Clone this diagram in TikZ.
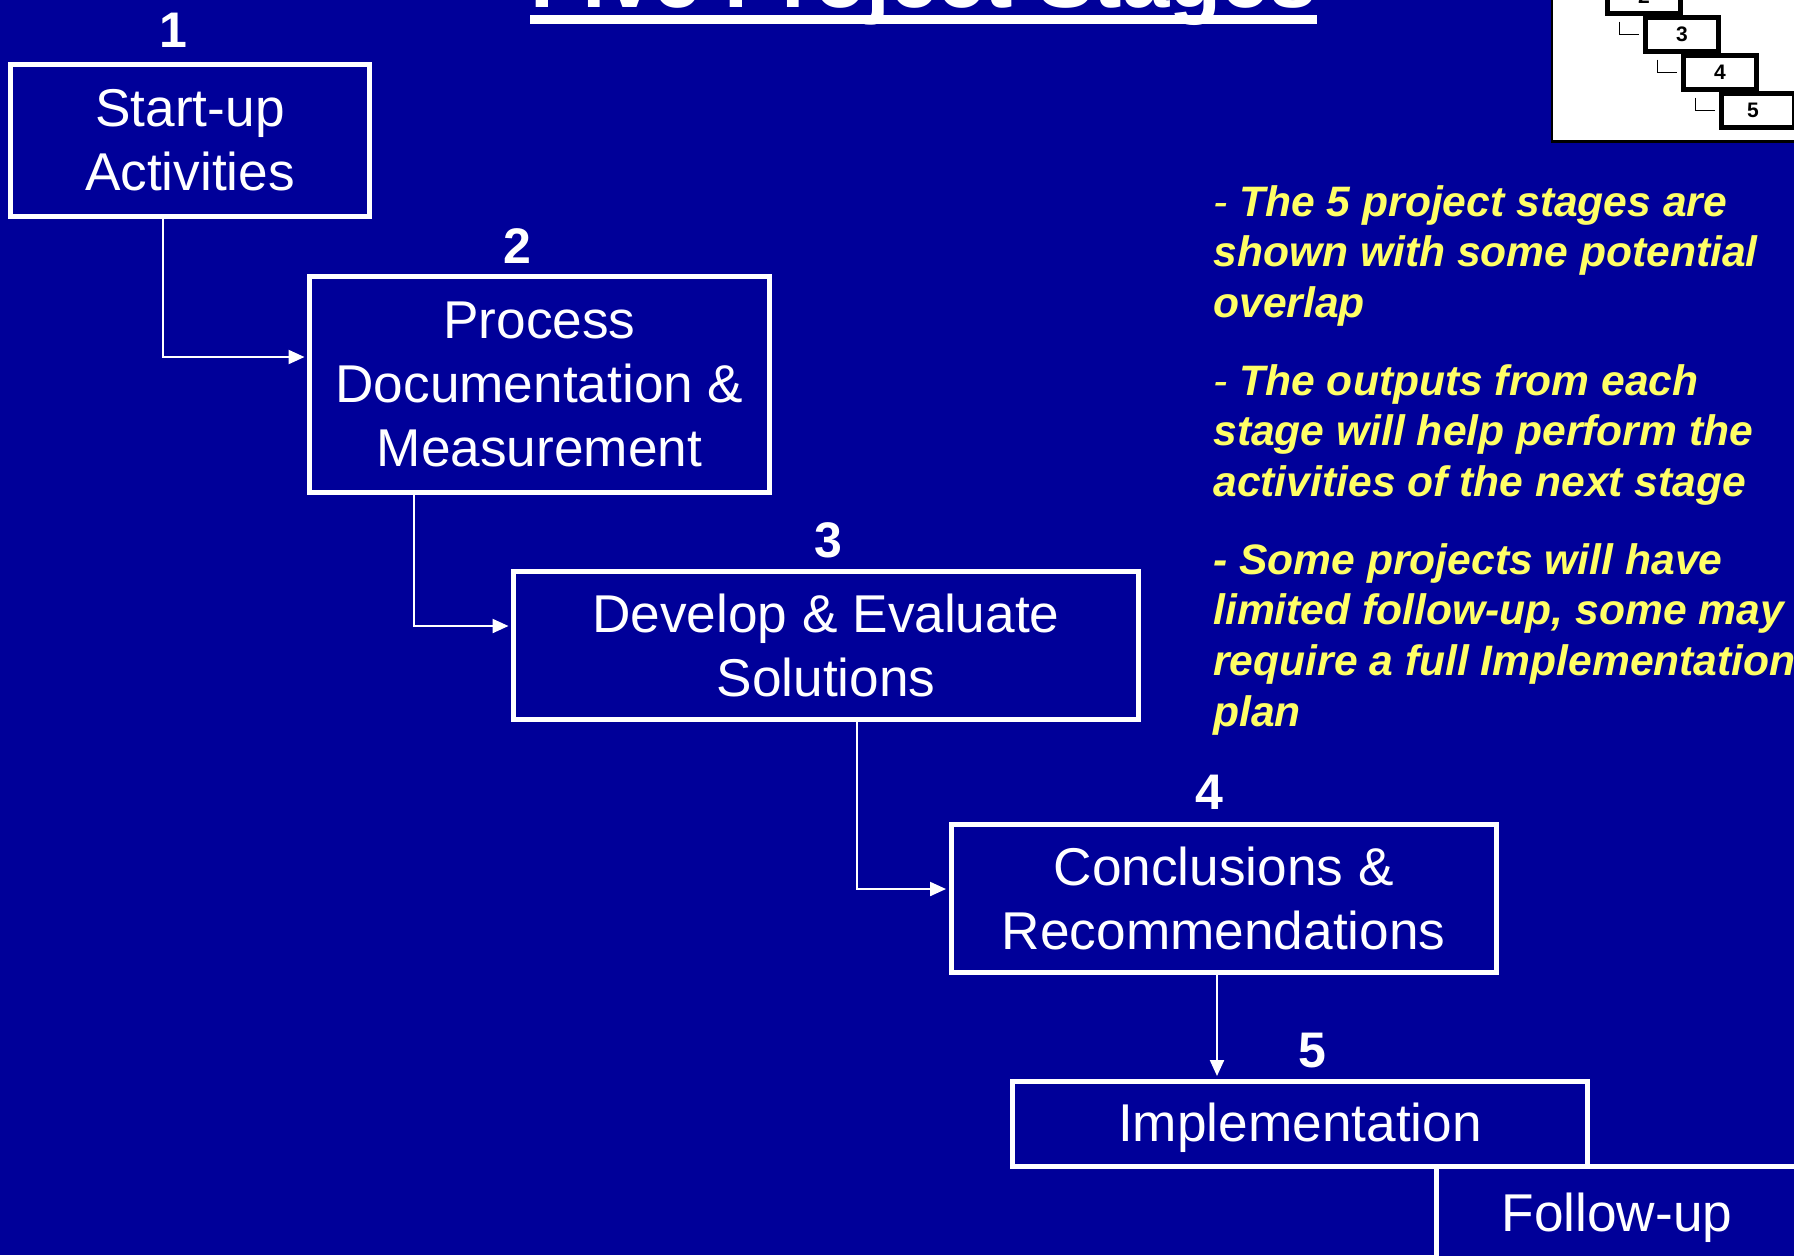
\documentclass[tikz,border=0pt]{standalone}
\usepackage{fontspec}
\setmainfont{Liberation Sans}
\usetikzlibrary{arrows.meta,calc}
\definecolor{slideblue}{RGB}{0,0,153}
\definecolor{noteyellow}{RGB}{255,255,102}
% strut with the ascent and descent of the sans face
\newcommand{\boxstrut}{\rule[-0.212em]{0pt}{1.117em}}
\begin{document}
\begin{tikzpicture}[x=0.5pt,y=-0.5pt,
  stagebox/.style={draw=white, line width=2.5pt, fill=slideblue, text=white,
    inner sep=0pt, align=center, font=\fontsize{26.6}{32}\selectfont},
  singleline/.style={execute at begin node=\boxstrut},
  stagenum/.style={text=white, inner sep=0pt, font=\fontsize{25}{29}\selectfont\bfseries},
  link/.style={draw=white, line width=1.1pt, -{Triangle[length=8pt,width=7pt]}, shorten >=1.25pt},
  note/.style={text=noteyellow, inner sep=0pt, anchor=base west,
    font=\fontsize{21.3}{25.5}\selectfont\bfseries\itshape},
  minibox/.style={draw=black, line width=2.5pt, fill=white, minimum width=36.5pt,
    minimum height=17pt, inner sep=0pt, font=\fontsize{10.5}{12}\selectfont\bfseries},
  minilink/.style={draw=black, line width=0.6pt, shorten <=2.75pt, shorten >=2.25pt}
]
\useasboundingbox (0,0) rectangle (1794,1255);
\fill[slideblue] (0,0) rectangle (1794,1255);
\clip (0,0) rectangle (1794,1255);

% title, underlined
\node[anchor=base west, inner sep=0pt, text=white,
  font=\fontsize{42.6}{50}\selectfont\bfseries] (title) at (530,7) {Five Project Stages};
\fill[white] ($(title.base west)+(0,8)$) rectangle ($(title.base east)+(0,17)$);

% small staircase sketch in the corner
\filldraw[fill=white, draw=black, line width=1.25pt] (1552,-20) rectangle (1820,141.5);
\node[minibox] (m2) at (1644,-3.5) {2};
\node[minibox] (m3) at (1682,34.5) {3};
\node[minibox] (m4) at (1720,72.5) {4};
\node[minibox] (m5) at (1758,110.5) {\kern-5pt 5};
\draw[minilink] ($(m2.south west)+(14.5,0)$) |- (m3.west);
\draw[minilink] ($(m3.south west)+(14.5,0)$) |- (m4.west);
\draw[minilink] ($(m4.south west)+(14.5,0)$) |- (m5.west);

% stage boxes
\node[stagebox, minimum width=179.5pt, minimum height=76pt] (b1) at (190,140.5) {Start-up\\Activities};
\node[stagebox, minimum width=230pt, minimum height=108pt] (b2) at (539.5,384.5) {Process\\Documentation \&\\Measurement};
\node[stagebox, minimum width=312.5pt, minimum height=74pt] (b3) at (826,645) {Develop \& Evaluate\\Solutions};
\node[stagebox, minimum width=272.75pt, minimum height=74.25pt] (b4) at (1223.75,898.5) {Conclusions \&\\Recommendations};
\node[stagebox, singleline, minimum width=287.5pt, minimum height=42.5pt] (b5) at (1300,1123.5) {Implementation};
\node[stagebox, singleline, minimum width=181pt, minimum height=46.5pt] (b6) at (1617,1213) {Follow-up};

% stage numbers
\node[stagenum] (n1) at (173,30) {1};
\node[stagenum] (n2) at (517,246) {2};
\node[stagenum] (n3) at (828,540) {3};
\node[stagenum] (n4) at (1209,792) {4};
\node[stagenum] (n5) at (1312,1051) {5};

% connectors
\coordinate (k12) at (163,357);
\coordinate (k23) at (414,626);
\coordinate (k34) at (857,889);
\coordinate (k45) at (1217,0);
\draw[link] (b1.south -| k12) |- (b2.west |- k12);
\draw[link] (b2.south -| k23) |- (b3.west |- k23);
\draw[link] (b3.south -| k34) |- (b4.west |- k34);
\draw[link] (b4.south -| k45) -- (b5.north -| k45);

% notes
\node[note] (t1a) at (1213,216) {{\mdseries -}\ The 5 project stages are};
\node[note] (t1b) at (1213,266.5) {shown with some potential};
\node[note] (t1c) at (1213,317) {overlap};
\node[note] (t2a) at (1213,395) {{\mdseries -}\ The outputs from each};
\node[note] (t2b) at (1213,445.5) {stage will help perform the};
\node[note] (t2c) at (1213,496) {activities of the next stage};
\node[note] (t3a) at (1213,574) {- Some projects will have};
\node[note] (t3b) at (1213,624.5) {limited follow-up, some may};
\node[note] (t3c) at (1213,675) {require a full Implementation};
\node[note] (t3d) at (1213,726.5) {plan};
\end{tikzpicture}
\end{document}
